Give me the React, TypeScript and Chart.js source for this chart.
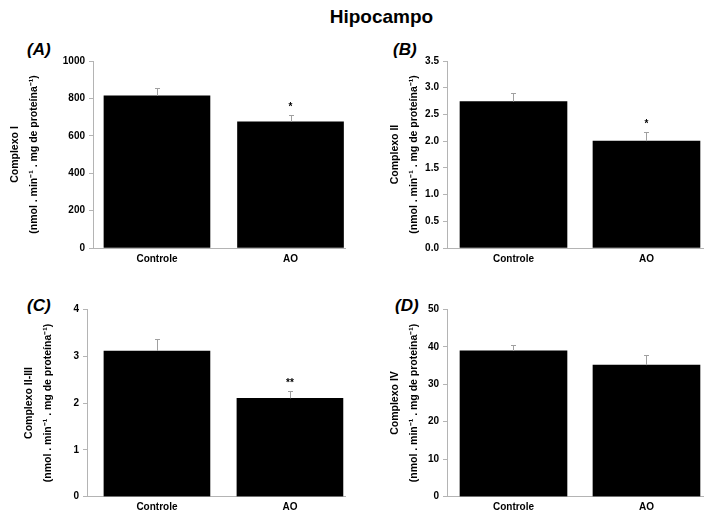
import React, { useEffect, useRef } from 'react';
import { Chart, registerables } from 'chart.js';

Chart.register(...registerables);

// ---------- data ----------
const categories = ['Controle', 'AO'];

const complexoI = [814, 675];
const complexoIErr = [43, 35];
const complexoISig = ['', '*'];

const complexoII = [2.74, 2.0];
const complexoIIErr = [0.17, 0.17];
const complexoIISig = ['', '*'];

const complexoIIIII = [3.11, 2.1];
const complexoIIIIIErr = [0.26, 0.15];
const complexoIIIIISig = ['', '**'];

const complexoIV = [38.9, 35.1];
const complexoIVErr = [1.5, 2.7];
const complexoIVSig = ['', ''];

const yMaxes = [1000, 3.5, 4, 50];
const ySteps = [200, 0.5, 1, 10];
const yDecimals = [0, 1, 0, 0];
const yTitles = ['Complexo I', 'Complexo II', 'Complexo II-III', 'Complexo IV'];
const unitLine = '(nmol . min\u207B\u00B9 . mg de proteína\u207B\u00B9)';
const panelLabels = ['(A)', '(B)', '(C)', '(D)'];
const mainTitle = 'Hipocampo';

const FONT = '"Liberation Sans", Arial, Helvetica, sans-serif';

// ---------- plugin: error bars + significance marks ----------
const errorBarPlugin = {
  id: 'errorBars',
  afterDatasetsDraw(chart: any, _args: any, opts: any) {
    const { ctx } = chart;
    const y = chart.scales.y;
    const meta = chart.getDatasetMeta(0);
    ctx.save();
    meta.data.forEach((bar: any, i: number) => {
      const v = opts.values[i];
      const e = opts.errors[i];
      const base = y.getPixelForValue(v);
      const top = Math.round(y.getPixelForValue(v + e)) + 0.5;
      const x = Math.round(bar.x) + 0.5;
      ctx.strokeStyle = '#a0a0a0';
      ctx.lineWidth = 1;
      ctx.beginPath();
      ctx.moveTo(x, base);
      ctx.lineTo(x, top);
      ctx.moveTo(x - 2.5, top);
      ctx.lineTo(x + 2.5, top);
      ctx.stroke();
      const s = opts.sig[i];
      if (s) {
        ctx.fillStyle = '#000';
        ctx.font = `bold 10px ${FONT}`;
        ctx.textAlign = 'center';
        ctx.textBaseline = 'alphabetic';
        ctx.fillText(s, bar.x, top - 6);
      }
    });
    ctx.restore();
  },
};

type PanelProps = {
  idx: number;
  values: number[];
  errors: number[];
  sig: string[];
  cl: number; ct: number; cw: number; ch: number;
  padL: number; yW: number; padR: number; padT: number; padB: number; xH: number;
  xMin: number; xMax: number; barW: number;
};

function Panel(p: PanelProps) {
  const ref = useRef<HTMLCanvasElement | null>(null);
  useEffect(() => {
    if (!ref.current) return;
    const chart = new Chart(ref.current, {
      type: 'bar',
      data: {
        datasets: [
          {
            data: p.values.map((v, i) => ({ x: i, y: v })) as any,
            backgroundColor: '#000000',
            borderWidth: 0,
            barThickness: p.barW,
          },
        ],
      },
      plugins: [errorBarPlugin as any],
      options: {
        animation: false,
        responsive: false,
        maintainAspectRatio: false,
        layout: { padding: { left: p.padL, right: p.padR, top: p.padT, bottom: p.padB } },
        plugins: {
          legend: { display: false },
          tooltip: { enabled: false },
          errorBars: { values: p.values, errors: p.errors, sig: p.sig },
        } as any,
        scales: {
          x: {
            type: 'linear',
            min: p.xMin,
            max: p.xMax,
            offset: false,
            afterBuildTicks: (s: any) => {
              s.ticks = categories.map((_, i) => ({ value: i }));
            },
            afterFit: (s: any) => {
              s.height = p.xH;
            },
            ticks: {
              callback: (v: any) => categories[v] ?? '',
              color: '#000',
              font: { family: FONT, size: 10, weight: 'bold' },
              padding: 5,
              autoSkip: false,
              maxRotation: 0,
            },
            grid: { display: false, drawTicks: false, tickLength: 0, offset: false },
            border: { display: true, color: '#b4b4b4', width: 1 },
          } as any,
          y: {
            type: 'linear',
            min: 0,
            max: yMaxes[p.idx],
            afterFit: (s: any) => {
              s.width = p.yW;
            },
            ticks: {
              stepSize: ySteps[p.idx],
              callback: (v: any) => Number(v).toFixed(yDecimals[p.idx]),
              color: '#000',
              font: { family: FONT, size: 10, weight: 'bold' },
              padding: 4,
            },
            grid: { drawOnChartArea: false, drawTicks: true, tickLength: 4, color: '#b4b4b4' },
            border: { display: true, color: '#b4b4b4', width: 1 },
            title: {
              display: true,
              text: [yTitles[p.idx], unitLine],
              color: '#000',
              font: { family: FONT, size: 10.5, weight: 'bold', lineHeight: '19px' },
              padding: { top: 0, bottom: 0 },
            },
          } as any,
        },
      },
    });
    return () => chart.destroy();
  }, []);
  return (
    <canvas
      ref={ref}
      width={p.cw}
      height={p.ch}
      style={{ position: 'absolute', left: p.cl, top: p.ct, width: p.cw, height: p.ch }}
    />
  );
}

const labelStyle = (left: number, top: number): React.CSSProperties => ({
  position: 'absolute',
  left,
  top,
  fontFamily: FONT,
  fontSize: 17,
  fontWeight: 'bold',
  fontStyle: 'italic',
  lineHeight: '17px',
  color: '#000',
  whiteSpace: 'nowrap',
});

export default function App() {
  return (
    <div
      style={{
        position: 'absolute',
        left: 0,
        top: 0,
        width: 706,
        height: 512,
        background: '#fff',
        overflow: 'hidden',
      }}
    >
      <div
        style={{
          position: 'absolute',
          left: 0,
          width: 763,
          top: 7,
          textAlign: 'center',
          fontFamily: FONT,
          fontSize: 19,
          fontWeight: 'bold',
          lineHeight: '19px',
          color: '#000',
        }}
      >
        {mainTitle}
      </div>
      <div style={labelStyle(27, 41)}>{panelLabels[0]}</div>
      <div style={labelStyle(393, 41)}>{panelLabels[1]}</div>
      <div style={labelStyle(27, 297)}>{panelLabels[2]}</div>
      <div style={labelStyle(395, 297)}>{panelLabels[3]}</div>

      <Panel idx={0} values={complexoI} errors={complexoIErr} sig={complexoISig}
        cl={0} ct={41} cw={360} ch={237} padL={5.5} yW={87.5} padR={15} padT={20} padB={10} xH={20}
        xMin={-0.479} xMax={1.408} barW={106} />
      <Panel idx={1} values={complexoII} errors={complexoIIErr} sig={complexoIISig}
        cl={360} ct={41} cw={346} ch={237} padL={25.5} yW={61.5} padR={3} padT={20} padB={10} xH={20}
        xMin={-0.5} xMax={1.425} barW={107} />
      <Panel idx={2} values={complexoIIIII} errors={complexoIIIIIErr} sig={complexoIIIIISig}
        cl={0} ct={289} cw={360} ch={223} padL={19.5} yW={67.5} padR={15} padT={20.3} padB={0} xH={15.3}
        xMin={-0.526} xMax={1.414} barW={106} />
      <Panel idx={3} values={complexoIV} errors={complexoIVErr} sig={complexoIVSig}
        cl={360} ct={289} cw={346} ch={223} padL={25.5} yW={61.5} padR={3} padT={20.3} padB={0} xH={15.3}
        xMin={-0.5} xMax={1.425} barW={107} />
    </div>
  );
}
